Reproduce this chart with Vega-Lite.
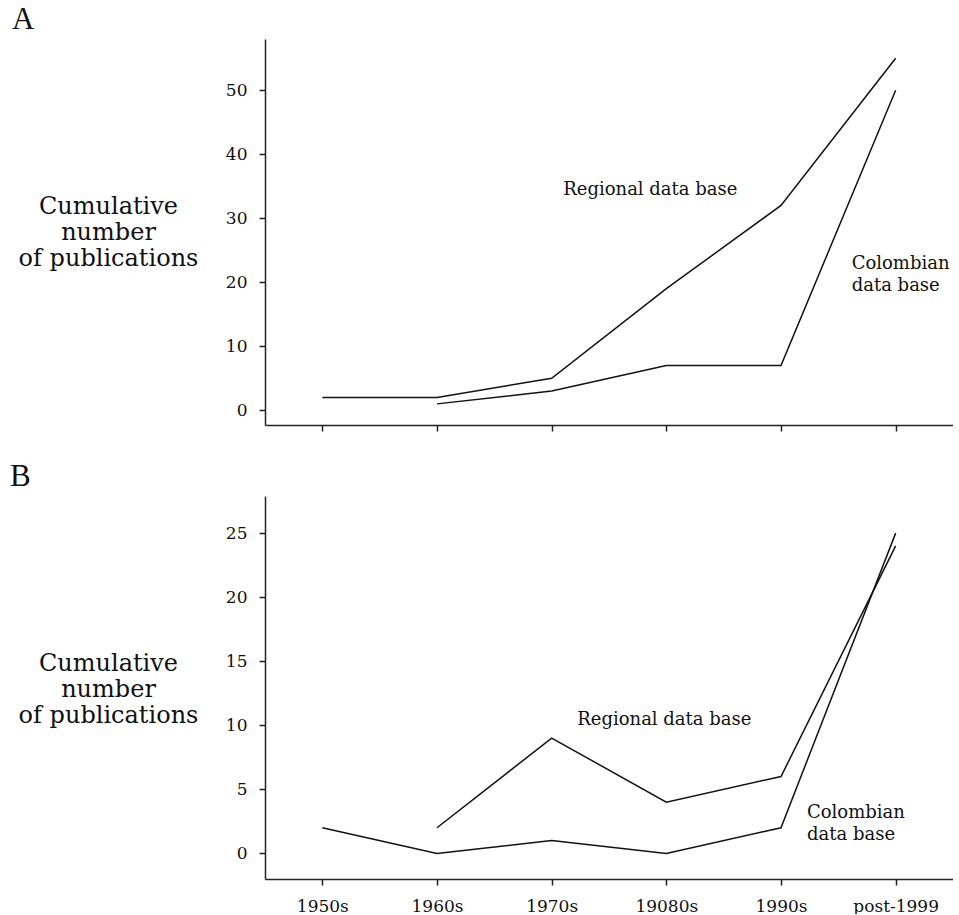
{
  "$schema": "https://vega.github.io/schema/vega-lite/v6.json",
  "padding": {"left": 10, "top": 4, "right": 0, "bottom": 0},
  "background": "white",
  "datasets": {
    "a": [
      {"series": "Regional", "decade": "1950s", "count": 2},
      {"series": "Regional", "decade": "1960s", "count": 2},
      {"series": "Regional", "decade": "1970s", "count": 5},
      {"series": "Regional", "decade": "19080s", "count": 19},
      {"series": "Regional", "decade": "1990s", "count": 32},
      {"series": "Regional", "decade": "post-1999", "count": 55},
      {"series": "Colombian", "decade": "1960s", "count": 1},
      {"series": "Colombian", "decade": "1970s", "count": 3},
      {"series": "Colombian", "decade": "19080s", "count": 7},
      {"series": "Colombian", "decade": "1990s", "count": 7},
      {"series": "Colombian", "decade": "post-1999", "count": 50}
    ],
    "b": [
      {"series": "Regional", "decade": "1960s", "count": 2},
      {"series": "Regional", "decade": "1970s", "count": 9},
      {"series": "Regional", "decade": "19080s", "count": 4},
      {"series": "Regional", "decade": "1990s", "count": 6},
      {"series": "Regional", "decade": "post-1999", "count": 24},
      {"series": "Colombian", "decade": "1950s", "count": 2},
      {"series": "Colombian", "decade": "1960s", "count": 0},
      {"series": "Colombian", "decade": "1970s", "count": 1},
      {"series": "Colombian", "decade": "19080s", "count": 0},
      {"series": "Colombian", "decade": "1990s", "count": 2},
      {"series": "Colombian", "decade": "post-1999", "count": 25}
    ],
    "one": [{}]
  },
  "config": {
    "view": {"stroke": null},
    "concat": {"spacing": 29},
    "axis": {
      "grid": false,
      "domainColor": "#222",
      "domainWidth": 1.5,
      "tickColor": "#222",
      "tickWidth": 1.5,
      "labelFont": "DejaVu Serif",
      "labelFontSize": 17,
      "labelColor": "#111",
      "titleFont": "DejaVu Serif",
      "titleFontWeight": "normal",
      "titleColor": "#111"
    },
    "title": {"font": "Liberation Serif", "fontSize": 31, "fontWeight": "normal", "color": "#111", "anchor": "start", "frame": "group"},
    "text": {"font": "DejaVu Serif", "fontSize": 18, "color": "#111"},
    "line": {"color": "#111", "strokeWidth": 1.5}
  },
  "vconcat": [
    {
      "width": 688,
      "height": 386,
      "title": {"text": "A", "dx": -253, "offset": 3},
      "layer": [
        {
          "data": {"name": "a"},
          "mark": {"type": "line"},
          "encoding": {
            "x": {"field": "decade", "type": "ordinal", "sort": ["1950s", "1960s", "1970s", "19080s", "1990s", "post-1999"],
                  "scale": {"type": "point", "padding": 0.5},
                  "axis": {"title": null, "labels": false, "tickSize": 6}},
            "y": {"field": "count", "type": "quantitative",
                  "scale": {"domain": [-2.3, 58], "nice": false, "zero": false},
                  "axis": {"values": [0, 10, 20, 30, 40, 50], "tickSize": 6, "labelPadding": 12,
                           "title": ["Cumulative", "number", "of publications"],
                           "titleAngle": 0, "titleAlign": "center", "titleBaseline": "alphabetic",
                           "titleFontSize": 24, "titleLineHeight": 26, "titleX": -157, "titleY": 174}},
            "detail": {"field": "series"}
          }
        },
        {
          "data": {"name": "one"},
          "mark": {"type": "text", "text": "Regional data base", "align": "center", "baseline": "middle", "dx": -16},
          "encoding": {"x": {"datum": "19080s"}, "y": {"datum": 34.4}}
        },
        {
          "data": {"name": "one"},
          "mark": {"type": "text", "text": ["Colombian", "data base"], "align": "left", "baseline": "middle", "lineHeight": 22, "dx": -44},
          "encoding": {"x": {"datum": "post-1999"}, "y": {"datum": 22.9}}
        }
      ]
    },
    {
      "width": 688,
      "height": 383,
      "title": {"text": "B", "dx": -255, "offset": 3},
      "layer": [
        {
          "data": {"name": "b"},
          "mark": {"type": "line"},
          "encoding": {
            "x": {"field": "decade", "type": "ordinal", "sort": ["1950s", "1960s", "1970s", "19080s", "1990s", "post-1999"],
                  "scale": {"type": "point", "padding": 0.5},
                  "axis": {"title": null, "labelAngle": 0, "tickSize": 6, "labelPadding": 13}},
            "y": {"field": "count", "type": "quantitative",
                  "scale": {"domain": [-2.0, 27.9], "nice": false, "zero": false},
                  "axis": {"values": [0, 5, 10, 15, 20, 25], "tickSize": 6, "labelPadding": 12,
                           "title": ["Cumulative", "number", "of publications"],
                           "titleAngle": 0, "titleAlign": "center", "titleBaseline": "alphabetic",
                           "titleFontSize": 24, "titleLineHeight": 26, "titleX": -157, "titleY": 174}},
            "detail": {"field": "series"}
          }
        },
        {
          "data": {"name": "one"},
          "mark": {"type": "text", "text": "Regional data base", "align": "center", "baseline": "middle", "dx": -2},
          "encoding": {"x": {"datum": "19080s"}, "y": {"datum": 10.45}}
        },
        {
          "data": {"name": "one"},
          "mark": {"type": "text", "text": ["Colombian", "data base"], "align": "left", "baseline": "middle", "lineHeight": 22, "dx": 26},
          "encoding": {"x": {"datum": "1990s"}, "y": {"datum": 3.14}}
        }
      ]
    }
  ]
}
